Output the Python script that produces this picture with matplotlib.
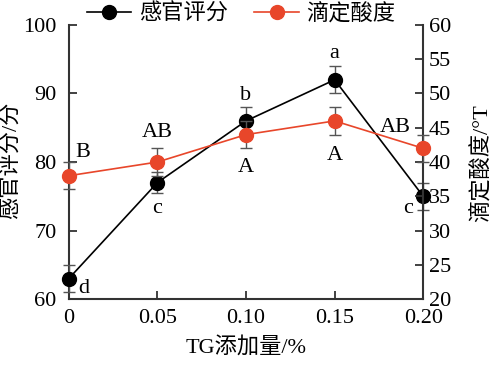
import matplotlib
matplotlib.use('Agg')
import matplotlib.pyplot as plt
from matplotlib.lines import Line2D

plt.rcParams['font.family'] = ['Liberation Serif', 'Noto Sans CJK SC']
plt.rcParams['font.size'] = 16

tg = [0, 0.05, 0.10, 0.15, 0.20]
tick_labels = ['0', '0.05', '0.10', '0.15', '0.20']
score = [63, 77, 86, 92, 75]
score_err = [2, 1.5, 2, 2, 2]
score_sig = ['d', 'c', 'b', 'a', 'c']
acid = [38, 40, 44, 46, 42]
acid_err = [2, 2, 2, 2, 2]
acid_sig = ['B', 'AB', 'A', 'A', 'AB']

orange = '#E8462A'
spine_col = '#333333'

fig = plt.figure(figsize=(4.95, 3.67), dpi=100)
ax = fig.add_axes([0.139, 0.185, 0.716, 0.747])
ax2 = ax.twinx()

ax.errorbar(tg, score, yerr=score_err, color='black', marker='o', markersize=10,
            lw=1.2, capsize=4, elinewidth=1.0, ecolor='#555555', clip_on=False,
            zorder=5)
ax2.errorbar(tg, acid, yerr=acid_err, color=orange, marker='o', markersize=10,
             lw=1.2, capsize=4, elinewidth=1.0, ecolor='#555555', clip_on=False,
             zorder=5)

# significance letters (offsets in points)
score_off = [(11, -7), (0, -19), (0, 18), (0, 19), (-11, -9)]
for x, y, s, (dx, dy) in zip(tg, score, score_sig, score_off):
    ax.annotate(s, (x, y), xytext=(dx, dy), textcoords='offset points',
                ha='center', va='center')
acid_off = [(10, 17), (0, 21), (0, -24), (0, -25), (-20, 15)]
for x, y, s, (dx, dy) in zip(tg, acid, acid_sig, acid_off):
    ax2.annotate(s, (x, y), xytext=(dx, dy), textcoords='offset points',
                 ha='center', va='center')

ax.set_xlim(0, 0.2)
ax.set_ylim(60, 100)
ax2.set_ylim(20, 60)
ax.set_xticks(tg)
ax.set_xticklabels(tick_labels)
ax.set_yticks([60, 70, 80, 90, 100])
ax2.set_yticks([20, 25, 30, 35, 40, 45, 50, 55, 60])

for a in (ax, ax2):
    a.spines['top'].set_visible(False)
    for sp in a.spines.values():
        sp.set_color(spine_col)
        sp.set_linewidth(1.5)
ax.spines['right'].set_visible(False)
ax2.spines['left'].set_visible(False)
ax2.spines['bottom'].set_visible(False)

ax.tick_params(axis='both', direction='in', length=6, width=1.3, color=spine_col, pad=7)
ax.tick_params(axis='y', pad=9)
ax2.tick_params(axis='y', direction='in', length=6, width=1.3, color=spine_col, pad=4)

ax.set_xlabel('TG添加量/%', labelpad=6)
ax.set_ylabel('感官评分/分', va='center')
ax2.set_ylabel('滴定酸度/°T', va='center')
ax.yaxis.set_label_coords(-0.162, 0.505)
ax2.yaxis.set_label_coords(1.163, 0.495)

handles = [Line2D([], [], color='black', marker='o', markersize=10, lw=1.2),
           Line2D([], [], color=orange, marker='o', markersize=10, lw=1.2)]
fig.legend(handles, ['感官评分', '滴定酸度'], loc='upper center', ncol=2, frameon=False,
           bbox_to_anchor=(0.487, 1.045), columnspacing=1.2, handlelength=2.0,
           handletextpad=0.35)

fig.savefig('out.png', dpi=100)
